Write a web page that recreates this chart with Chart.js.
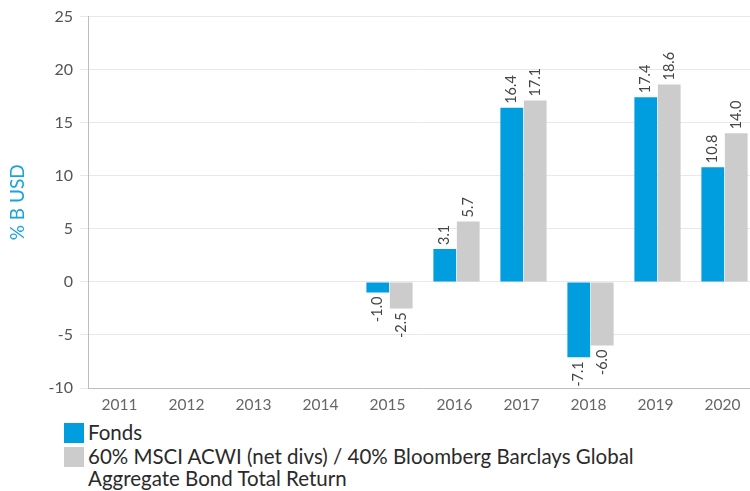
<!DOCTYPE html>
<html>
<head>
<meta charset="utf-8">
<script src="https://cdn.jsdelivr.net/npm/chart.js@4"></script>
<style>
  html, body { margin: 0; padding: 0; background: #fff; overflow: hidden; width: 750px; height: 491px; }
  #wrap { position: relative; width: 758px; height: 415px; }
  #legend { position: absolute; left: 64px; top: 421px; font-family: Lato, sans-serif; font-size: 20.5px; color: #2a2a2a; }
  .item { display: flex; align-items: flex-start; margin-bottom: 2px; line-height: 22px; }
  .box { width: 20px; height: 20px; margin-right: 4px; flex: none; margin-top: 2px; }
</style>
</head>
<body>
<div id="wrap"><canvas id="chart" width="758" height="415"></canvas></div>
<div id="legend"></div>
<script>
const years = ["2011", "2012", "2013", "2014", "2015", "2016", "2017", "2018", "2019", "2020"];
const fonds = [null, null, null, null, -1.0, 3.1, 16.4, -7.1, 17.4, 10.8];
const benchmark = [null, null, null, null, -2.5, 5.7, 17.1, -6.0, 18.6, 14.0];
const yTicks = [-10, -5, 0, 5, 10, 15, 20, 25];
const seriesNames = ["Fonds", "60% MSCI ACWI (net divs) / 40% Bloomberg Barclays Global Aggregate Bond Total Return"];
const seriesColors = ["#009ddf", "#cccccc"];

// labels tournés à 90° au bout de chaque barre
const barLabels = {
  id: "barLabels",
  afterDatasetsDraw(chart) {
    const ctx = chart.ctx;
    ctx.save();
    ctx.font = "14.5px Lato, sans-serif";
    ctx.fillStyle = "#444";
    ctx.textBaseline = "middle";
    chart.data.datasets.forEach((ds, i) => {
      chart.getDatasetMeta(i).data.forEach((bar, j) => {
        const v = ds.data[j];
        if (v === null) return;
        ctx.save();
        ctx.translate(bar.x, v >= 0 ? bar.y - 4 : bar.y + 4);
        ctx.rotate(-Math.PI / 2);
        ctx.textAlign = v >= 0 ? "left" : "right";
        ctx.fillText(v.toFixed(1), 0, 0);
        ctx.restore();
      });
    });
    ctx.restore();
  }
};

new Chart(document.getElementById("chart"), {
  type: "bar",
  data: {
    labels: years,
    datasets: [
      { label: seriesNames[0], data: fonds, backgroundColor: seriesColors[0] },
      { label: seriesNames[1], data: benchmark, backgroundColor: seriesColors[1] }
    ]
  },
  options: {
    responsive: false,
    animation: false,
    layout: { padding: { top: 16, right: 0, left: 0, bottom: 0 } },
    datasets: { bar: { categoryPercentage: 0.7, barPercentage: 0.97 } },
    plugins: { legend: { display: false }, tooltip: { enabled: false } },
    scales: {
      x: {
        grid: { display: false },
        border: { color: "#bdbdbd" },
        ticks: { color: "#666", font: { family: "Lato", size: 15.5 }, labelOffset: -2, padding: 0 },
        afterFit(s) { s.height = 27; }
      },
      y: {
        min: -10,
        max: 25,
        afterBuildTicks(s) { s.ticks = yTicks.map(v => ({ value: v })); },
        grid: { color: "#e8e8e8" },
        border: { color: "#bdbdbd" },
        ticks: { color: "#555", font: { family: "Lato", size: 16 }, padding: 7 },
        title: { display: true, text: "% B USD", color: "#1aa3e0", font: { family: "Lato", size: 19 }, padding: { top: 6, bottom: 0 } },
        afterFit(s) { s.width = 88; }
      }
    }
  },
  plugins: [barLabels]
});

const legend = document.getElementById("legend");
seriesNames.forEach((name, i) => {
  const row = document.createElement("div");
  row.className = "item";
  row.innerHTML = '<span class="box" style="background:' + seriesColors[i] + '"></span><span style="width:' + (i ? 580 : 600) + 'px">' + name + "</span>";
  legend.appendChild(row);
});
</script>
</body>
</html>
